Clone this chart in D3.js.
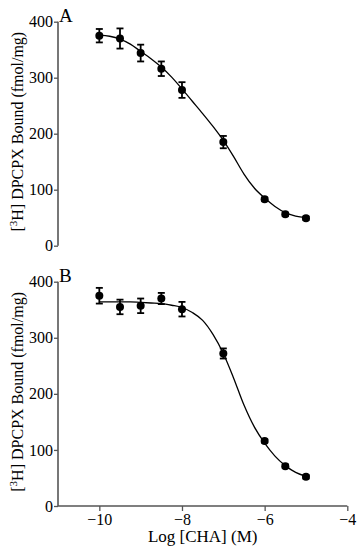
<!DOCTYPE html>
<html>
<head>
<meta charset="utf-8">
<script src="https://cdn.jsdelivr.net/npm/d3@7"></script>
<style>
  html, body { margin: 0; padding: 0; background: #fff; }
  svg { display: block; }
  svg text { font-family: "Liberation Serif", "Times New Roman", Times, serif !important; }
</style>
</head>
<body>
<svg id="chart" width="357" height="550"></svg>
<script>
// measured points (log M of CHA)
var logCHA = [-10, -9.5, -9, -8.5, -8, -7, -6, -5.5, -5];
var boundA = [375, 370, 344, 316, 278, 185, 83, 56, 49];
var semA   = [12, 18, 15, 13, 14, 11, 3, 3, 3];
var boundB = [375, 355, 357, 370, 351, 272, 116, 71, 52];
var semB   = [14, 13, 13, 10, 13, 9, 3, 3, 3];

// fitted curves
var fitX = [-10, -9.75, -9.5, -9.25, -9, -8.75, -8.5, -8.25, -8, -7.75, -7.5, -7.25, -7, -6.75, -6.5, -6.25, -6, -5.75, -5.5, -5.25, -5];
var fitA = [376, 374, 369, 360, 347, 334, 319, 301, 280, 258, 236, 213, 188, 159, 128, 103, 85, 70, 59, 53, 50];
var fitB = [364, 364, 364, 364, 363, 362, 361, 358, 354, 345, 331, 306, 272, 228, 180, 141, 112, 89, 72, 60, 53];

var yTicks = [0, 100, 200, 300, 400];
var xTicks = [-10, -8, -6, -4];
var yTitle = ['[', '3', 'H] DPCPX Bound (fmol/mg)'];
var xTitle = 'Log [CHA] (M)';

var config = {
    axisX: 58,
    axisRight: 347.3,
    axisColor: '#555',
    panels: [
        { letter: 'A', top: 21.7, bottom: 245.7, bound: boundA, sem: semA, fit: fitA, xAxis: false },
        { letter: 'B', top: 281.7, bottom: 506, bound: boundB, sem: semB, fit: fitB, xAxis: true }
    ]
};

var svg = d3.select('#chart');

var x = d3.scaleLinear().domain([-11, -4]).range([config.axisX, config.axisRight]);

config.panels.forEach(function(p) {
    var y = d3.scaleLinear().domain([0, 400]).range([p.bottom, p.top]);
    var g = svg.append('g');

    // y axis
    var yAxis = g.append('g')
        .attr('transform', 'translate(' + config.axisX + ',0)')
        .call(d3.axisLeft(y).tickValues(yTicks).tickSize(4).tickPadding(1).tickFormat(d3.format('d')));
    yAxis.select('.domain').attr('stroke', config.axisColor).attr('stroke-width', 1.6)
        .attr('d', 'M0,' + p.top + 'V' + p.bottom);
    yAxis.selectAll('.tick line').attr('stroke', config.axisColor).attr('stroke-width', 1.3);
    yAxis.selectAll('.tick text').attr('font-size', 16).attr('fill', '#000');

    if (p.xAxis) {
        var xAxis = g.append('g')
            .attr('transform', 'translate(0,' + p.bottom + ')')
            .call(d3.axisBottom(x).tickValues(xTicks).tickSize(5).tickPadding(3).tickFormat(d3.format('d')));
        xAxis.select('.domain').attr('stroke', config.axisColor).attr('stroke-width', 1.6)
            .attr('d', 'M' + config.axisX + ',0H' + config.axisRight);
        xAxis.selectAll('.tick line').attr('stroke', config.axisColor).attr('stroke-width', 1.3);
        xAxis.selectAll('.tick text').attr('font-size', 16).attr('fill', '#000');

        g.append('text')
            .attr('x', (config.axisX + config.axisRight) / 2)
            .attr('y', p.bottom + 36)
            .attr('text-anchor', 'middle')
            .attr('font-size', 17)
            .text(xTitle);
    }

    // panel letter
    g.append('text')
        .attr('x', config.axisX + 1)
        .attr('y', p.top + 0.5)
        .attr('font-size', 19)
        .text(p.letter);

    // y title
    var t = g.append('text')
        .attr('transform', 'translate(23,' + ((p.top + p.bottom) / 2 - 2) + ') rotate(-90)')
        .attr('text-anchor', 'middle')
        .attr('font-size', 16);
    t.append('tspan').text(yTitle[0]);
    t.append('tspan').attr('dy', -6).attr('font-size', 11).text(yTitle[1]);
    t.append('tspan').attr('dy', 6).text(yTitle[2]);

    // fitted curve
    var line = d3.line()
        .x(function(d) { return x(d[0]); })
        .y(function(d) { return y(d[1]); })
        .curve(d3.curveMonotoneX);
    g.append('path')
        .datum(d3.zip(fitX, p.fit))
        .attr('d', line)
        .attr('fill', 'none')
        .attr('stroke', '#000')
        .attr('stroke-width', 1.3);

    // error bars
    var pts = logCHA.map(function(v, i) { return { x: v, y: p.bound[i], e: p.sem[i] }; });
    var eb = g.selectAll('g.err').data(pts).enter().append('g').attr('class', 'err')
        .attr('stroke', '#000').attr('stroke-width', 1.8);
    eb.append('line')
        .attr('x1', function(d) { return x(d.x); })
        .attr('x2', function(d) { return x(d.x); })
        .attr('y1', function(d) { return y(d.y + d.e); })
        .attr('y2', function(d) { return y(d.y - d.e); });
    eb.append('line')
        .attr('x1', function(d) { return x(d.x) - 3.5; })
        .attr('x2', function(d) { return x(d.x) + 3.5; })
        .attr('y1', function(d) { return y(d.y + d.e); })
        .attr('y2', function(d) { return y(d.y + d.e); });
    eb.append('line')
        .attr('x1', function(d) { return x(d.x) - 3.5; })
        .attr('x2', function(d) { return x(d.x) + 3.5; })
        .attr('y1', function(d) { return y(d.y - d.e); })
        .attr('y2', function(d) { return y(d.y - d.e); });

    // markers
    g.selectAll('circle').data(pts).enter().append('circle')
        .attr('cx', function(d) { return x(d.x); })
        .attr('cy', function(d) { return y(d.y); })
        .attr('r', 4)
        .attr('fill', '#000');
});
</script>
</body>
</html>
